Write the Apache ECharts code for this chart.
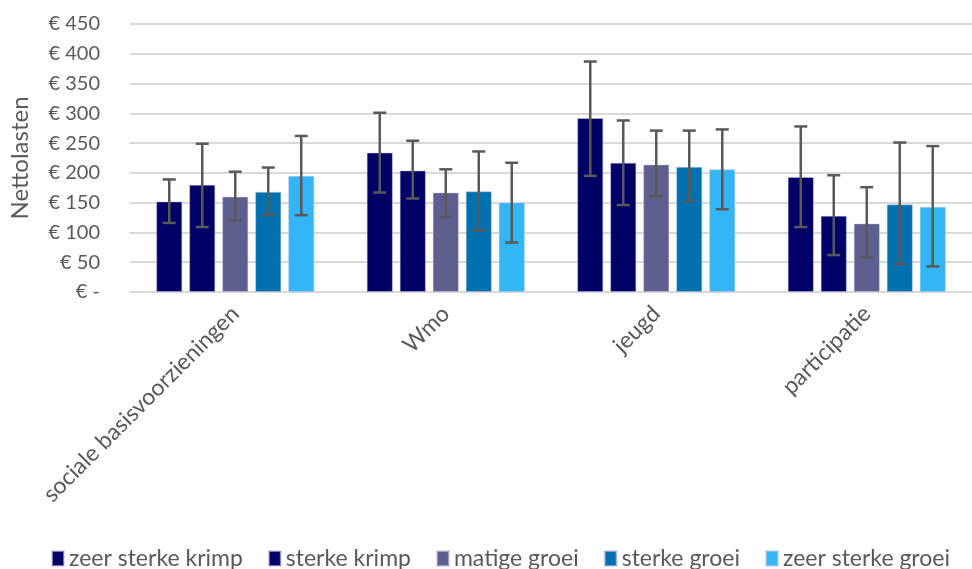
<!DOCTYPE html>
<html>
<head>
<meta charset="utf-8">
<script src="https://cdn.jsdelivr.net/npm/echarts@6/dist/echarts.min.js"></script>
<style>html,body{margin:0;padding:0;background:#fff;overflow:hidden}#c{width:972px;height:569px}</style>
</head>
<body>
<div id="c"></div>
<script>
var categories = ['sociale basisvoorzieningen', 'Wmo', 'jeugd', 'participatie'];
var seriesNames = ['zeer sterke krimp', 'sterke krimp', 'matige groei', 'sterke groei', 'zeer sterke groei'];
var zeerSterkeKrimp = [152, 234, 292, 193];
var sterkeKrimp = [180, 204, 217, 128];
var matigeGroei = [160, 167, 214, 115];
var sterkeGroei = [168, 169, 210, 147];
var zeerSterkeGroei = [195, 150, 206, 143];
var zeerSterkeKrimpLow = [116, 167, 195, 109];
var zeerSterkeKrimpHigh = [189, 301, 387, 278];
var sterkeKrimpLow = [109, 157, 146, 62];
var sterkeKrimpHigh = [249, 254, 288, 196];
var matigeGroeiLow = [120, 126, 161, 58];
var matigeGroeiHigh = [202, 206, 271, 176];
var sterkeGroeiLow = [129, 103, 153, 47];
var sterkeGroeiHigh = [209, 236, 271, 251];
var zeerSterkeGroeiLow = [129, 83, 139, 43];
var zeerSterkeGroeiHigh = [262, 217, 273, 245];
var yTicks = [0, 50, 100, 150, 200, 250, 300, 350, 400, 450];

var values = [zeerSterkeKrimp, sterkeKrimp, matigeGroei, sterkeGroei, zeerSterkeGroei];
var lows = [zeerSterkeKrimpLow, sterkeKrimpLow, matigeGroeiLow, sterkeGroeiLow, zeerSterkeGroeiLow];
var highs = [zeerSterkeKrimpHigh, sterkeKrimpHigh, matigeGroeiHigh, sterkeGroeiHigh, zeerSterkeGroeiHigh];
var colors = ['#000066', '#000066', '#5f5f8f', '#0070ae', '#33b5f6'];

var FONT = 'Lato, "Open Sans", sans-serif';
var BAR_W = 26, GAP = 7;

var series = [];
values.forEach(function (v, i) {
  series.push({
    name: seriesNames[i], type: 'bar', data: v,
    barWidth: BAR_W, barGap: (GAP / BAR_W * 100) + '%',
    itemStyle: { color: colors[i], borderColor: 'rgba(200,200,230,0.6)', borderWidth: 0.8 },
    z: 2
  });
});
values.forEach(function (v, i) {
  var d = categories.map(function (c, k) { return [k, lows[i][k], highs[i][k]]; });
  series.push({
    type: 'custom', name: seriesNames[i] + ' err', data: d, z: 5,
    encode: { x: 0, y: [1, 2] },
    renderItem: function (params, api) {
      var c = api.value(0);
      var lo = api.coord([c, api.value(1)]);
      var hi = api.coord([c, api.value(2)]);
      var x = lo[0] + (i - 2) * (BAR_W + GAP);
      var hw = 6.5;
      var st = { stroke: '#595959', lineWidth: 2.5 };
      return { type: 'group', children: [
        { type: 'line', shape: { x1: x, y1: lo[1], x2: x, y2: hi[1] }, style: st },
        { type: 'line', shape: { x1: x - hw, y1: lo[1], x2: x + hw, y2: lo[1] }, style: st },
        { type: 'line', shape: { x1: x - hw, y1: hi[1], x2: x + hw, y2: hi[1] }, style: st }
      ]};
    }
  });
});

var chart = echarts.init(document.getElementById('c'));
chart.setOption({
  animation: false,
  textStyle: { fontFamily: FONT },
  grid: { left: 128, right: -12, top: 24, bottom: 277 },
  legend: {
    data: seriesNames, top: 542, left: 46, icon: 'rect',
    itemWidth: 12, itemHeight: 15, itemGap: 25,
    textStyle: { fontSize: 23, color: '#595959', fontFamily: FONT }
  },
  xAxis: {
    type: 'category', data: categories,
    axisLine: { show: true, lineStyle: { color: '#d9d9d9', width: 2 } },
    axisTick: { show: false },
    axisLabel: { rotate: 45, fontSize: 23, color: '#595959', margin: 18, interval: 0, fontFamily: FONT }
  },
  yAxis: {
    type: 'value', min: 0, max: 450, interval: 50,
    name: 'Nettolasten', nameLocation: 'middle', nameGap: 98,
    nameTextStyle: { fontSize: 24, color: '#595959', fontFamily: FONT },
    axisLine: { show: false }, axisTick: { show: false },
    splitLine: { lineStyle: { color: '#d9d9d9', width: 2 } },
    axisLabel: {
      fontSize: 20, color: '#595959', margin: 30, fontFamily: FONT,
      formatter: function (v) { return yTicks.indexOf(v) >= 0 ? (v === 0 ? '€ -' : '€ ' + v) : ''; }
    }
  },
  series: series
});
</script>
</body>
</html>
